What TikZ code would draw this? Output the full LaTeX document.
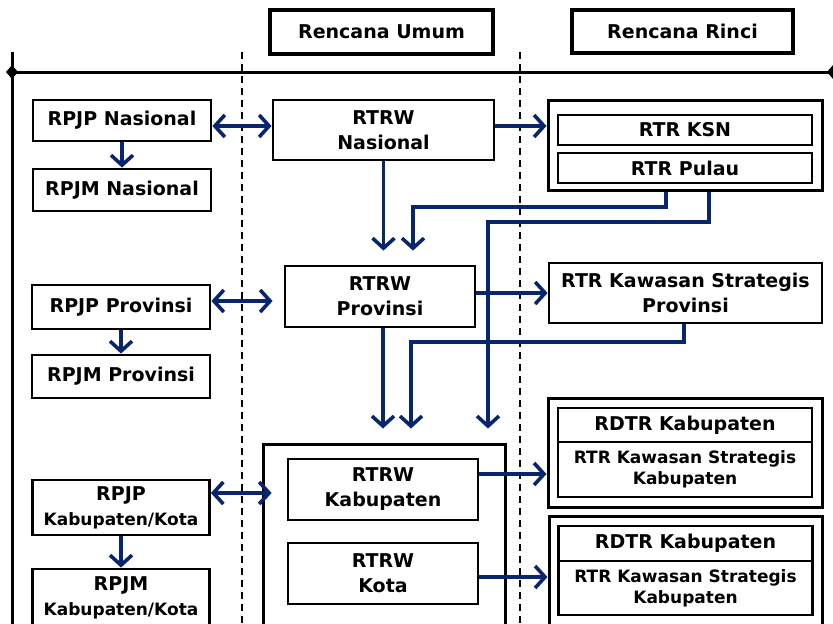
\documentclass[tikz,border=0pt]{standalone}
\usepackage{fontspec}
\setmainfont{DejaVu Sans}
\usetikzlibrary{arrows.meta}
\definecolor{navy}{RGB}{8,38,110}
\tikzset{
  box/.style={draw, line width=2.8pt, fill=white, align=center, inner sep=0pt,
    font=\bfseries\fontsize{19}{25}\selectfont},
  smallbox/.style={box, font=\bfseries\fontsize{17}{21}\selectfont},
  hdr/.style={box, line width=4pt},
  frame/.style={draw, line width=3pt},
  arr/.style={draw=navy, line width=3.6pt, -{Straight Barb[length=10pt,width=22pt]}},
  darr/.style={arr, {Straight Barb[length=10pt,width=22pt]}-{Straight Barb[length=10pt,width=22pt]}},
}

\begin{document}
\begin{tikzpicture}[x=1pt, y=-1pt]
  \useasboundingbox (0,0) rectangle (833,624);
  \draw[line width=3pt] (12,52) -- (12,630);
  \draw[line width=3pt] (12,72) -- (833,72);
  \fill (12,65) -- (18,72) -- (12,79) -- (6,72) -- cycle;
  \fill (833,65) -- (839,72) -- (833,79) -- (827,72) -- cycle;
  \draw[line width=2pt, dash pattern=on 7pt off 5pt] (242,52) -- (242,630);
  \draw[line width=2pt, dash pattern=on 7pt off 5pt] (520,52) -- (520,630);

  \node[hdr, minimum width=223, minimum height=44] (umum) at (381.5,32) {Rencana Umum};
  \node[hdr, minimum width=221, minimum height=43] (rinci) at (682.5,31.5) {Rencana Rinci};

  \node[box, minimum width=178, minimum height=41] (rpjpnas) at (122,120.5) {RPJP Nasional};
  \node[box, minimum width=178, minimum height=42] (rpjmnas) at (122,190) {RPJM Nasional};
  \node[box, minimum width=178, minimum height=44] (rpjpprov) at (121,307) {RPJP Provinsi};
  \node[box, minimum width=178, minimum height=43] (rpjmprov) at (121,376.5) {RPJM Provinsi};
  \node[box, minimum width=177, minimum height=55] (rpjpkab) at (121,507.5)
    {RPJP\\\fontsize{17}{20}\selectfont Kabupaten/Kota};
  \node[box, minimum width=177, minimum height=58] (rpjmkab) at (121,598)
    {RPJM\\\fontsize{17}{20}\selectfont Kabupaten/Kota};

  \node[box, minimum width=221, minimum height=60] (nas) at (383.5,130) {RTRW\\Nasional};
  \node[box, minimum width=190, minimum height=61] (prov) at (380,296.5) {RTRW\\Provinsi};
  \node[frame, minimum width=242, minimum height=196] (kabkota) at (384,542) {};
  \node[box, minimum width=190, minimum height=61] (kab) at (383,489.5) {RTRW\\Kabupaten};
  \node[box, minimum width=190, minimum height=61] (kota) at (383,573.5) {RTRW\\Kota};

  \node[frame, minimum width=274, minimum height=90] (ksnbox) at (685,145) {};
  \node[box, minimum width=254, minimum height=30] (ksn) at (685,130) {RTR KSN};
  \node[box, minimum width=254, minimum height=30] (pulau) at (685,168) {RTR Pulau};
  \node[box, minimum width=273, minimum height=60] (ksprov) at (685.5,293)
    {RTR Kawasan Strategis\\Provinsi};

  \node[frame, minimum width=274, minimum height=109] (rdtrsatu) at (685,452.5) {};
  \node[box, minimum width=254, minimum height=34] (rdtrkabsatu) at (685,425) {RDTR Kabupaten};
  \node[smallbox, minimum width=254, minimum height=55] (kskabsatu) at (685,469.5)
    {RTR Kawasan Strategis\\Kabupaten};
  \node[frame, minimum width=273, minimum height=118] (rdtrdua) at (685.5,575) {};
  \node[box, minimum width=254, minimum height=35] (rdtrkabdua) at (685.5,543.5) {RDTR Kabupaten};
  \node[smallbox, minimum width=254, minimum height=54] (kskabdua) at (685.5,588)
    {RTR Kawasan Strategis\\Kabupaten};

  \coordinate (ka) at (666,207);
  \coordinate (kb) at (709,222);
  \coordinate (kc) at (684,342);

  \draw[darr] ([yshift=-5.5pt]rpjpnas.east) -- ([yshift=-5.5pt]rpjpnas.east -| nas.west);
  \draw[arr] (rpjpnas) -- (rpjmnas);
  \draw[arr] ([yshift=4pt]nas.east) -- ([yshift=4pt]nas.east -| ksnbox.west);
  \draw[arr, shorten >=14pt] (nas.south) -- (nas.south |- prov.north);
  \draw[arr, shorten >=14pt] (ksnbox.south -| ka) -- (ka) -| ([xshift=33pt]prov.north);
  \draw[arr, shorten >=14pt] (ksnbox.south -| kb) -- (kb) -| ([xshift=104pt]kabkota.north);

  \draw[darr, shorten >=11pt] ([yshift=6pt]rpjpprov.east) -- ([yshift=6pt]rpjpprov.east -| prov.west);
  \draw[arr] (rpjpprov) -- (rpjmprov);
  \draw[arr] (prov.east |- ksprov.west) -- (ksprov.west);
  \draw[arr, shorten >=14pt] ([xshift=3pt]prov.south) -- ([xshift=3pt]prov.south |- kabkota.north);
  \draw[arr, shorten >=14pt] (ksprov.south -| kc) -- (kc) -| ([xshift=27pt]kabkota.north);

  \draw[darr, shorten >=15pt] ([yshift=-3.5pt]kab.west -| rpjpkab.east) -- ([yshift=-3.5pt]kab.west);
  \draw[arr] (rpjpkab) -- (rpjmkab);
  \draw[arr] ([yshift=15.5pt]kab.east) -- ([yshift=15.5pt]kab.east -| rdtrsatu.west);
  \draw[arr] ([yshift=-3.5pt]kota.east) -- ([yshift=-3.5pt]kota.east -| rdtrdua.west);
\end{tikzpicture}
\end{document}
